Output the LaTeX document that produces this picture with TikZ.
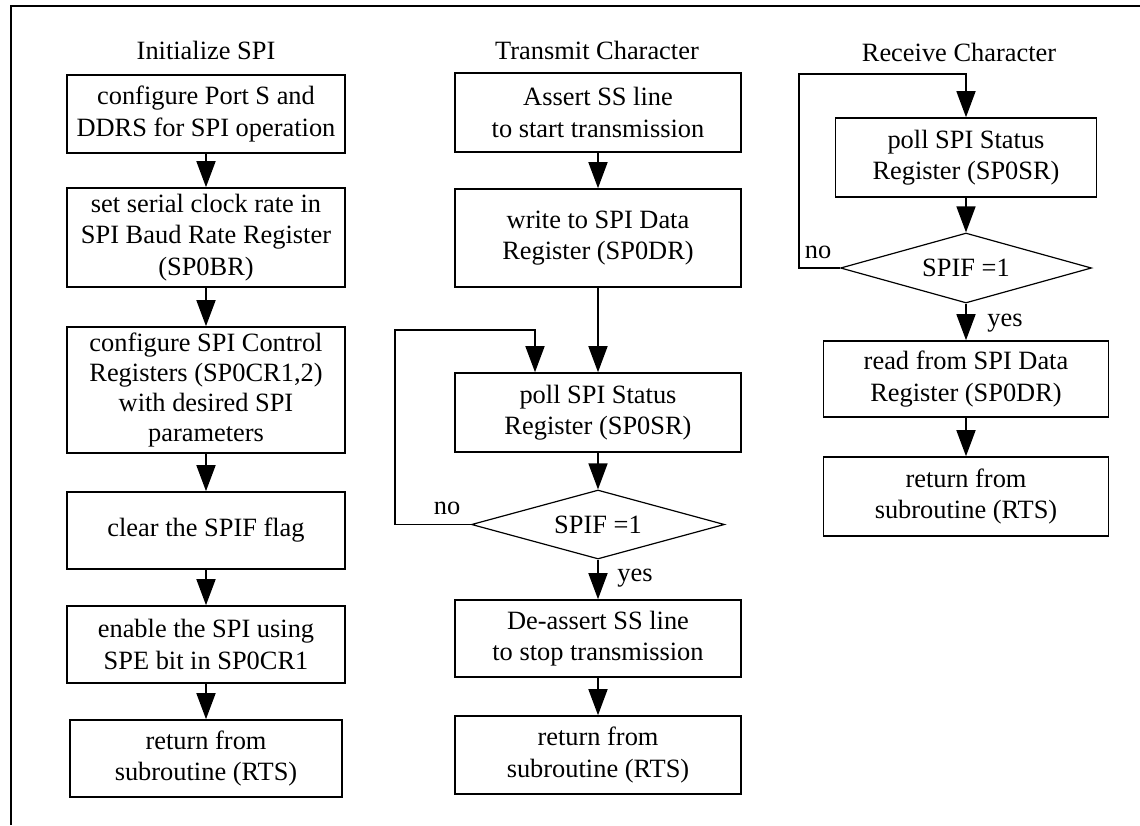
\documentclass[tikz,border=0pt]{standalone}
\usepackage{fontspec}
\setmainfont{Liberation Serif}
\usepackage{tikz}
\usetikzlibrary{positioning, arrows.meta, shapes.geometric}

\tikzset{
    txt/.style={font=\fontsize{13.2}{15.8}\selectfont, align=center, inner sep=0pt},
    stepbox/.style={txt, draw, line width=0.8pt, minimum width=143pt},
    test/.style={txt, draw, diamond, line width=0.6pt, aspect=3.6},
    arr/.style={line width=0.8pt, -{Triangle[length=13pt, width=9.5pt]}}
}

\begin{document}
\begin{tikzpicture}[x=0.5pt, y=-0.5pt]
    \useasboundingbox (0,0) rectangle (1140,825);
    \draw[line width=1pt] (11,825) -- (11,6) -- (1140,6);

    \node[txt] (t1) at (206,50) {Initialize SPI};
    \node[stepbox, minimum width=139pt, minimum height=39pt] (a1) at (206,114)
        {configure Port S and\\DDRS for SPI operation};
    \node[stepbox, minimum width=139pt, minimum height=49.5pt] (a2) at (206,237.5)
        {set serial clock rate in\\SPI Baud Rate Register\\(SP0BR)};
    \node[stepbox, minimum width=139pt, minimum height=63pt,
          font=\fontsize{13.2}{15}\selectfont] (a3) at (206,390)
        {configure SPI Control\\Registers (SP0CR1,2)\\with desired SPI\\parameters};
    \node[stepbox, minimum width=139pt, minimum height=38.5pt] (a4) at (206,530.5)
        {clear the SPIF flag};
    \node[stepbox, minimum width=139pt, minimum height=38.5pt] (a5) at (206,644.5)
        {enable the SPI using\\SPE bit in SP0CR1};
    \node[stepbox, minimum width=136pt, minimum height=38.5pt] (a6) at (206,758.5)
        {return from\\subroutine (RTS)};

    \node[txt] (t2) at (597,50) {Transmit Character};
    \node[stepbox, minimum height=39.5pt] (b1) at (598,112.5)
        {Assert SS line\\to start transmission};
    \node[stepbox, minimum height=49pt] (b2) at (598,238)
        {write to SPI Data\\Register (SP0DR)};
    \node[stepbox, minimum height=39.5pt] (b3) at (598,412.5)
        {poll SPI Status\\Register (SP0SR)};
    \node[test, minimum width=126.5pt, minimum height=34.5pt] (d1) at (598,524.5) {SPIF =1};
    \node[stepbox, minimum height=38.5pt] (b4) at (598,638.5)
        {De-assert SS line\\to stop transmission};
    \node[stepbox, minimum height=39pt] (b5) at (598,755)
        {return from\\subroutine (RTS)};

    \node[txt] (t3) at (959,52) {Receive Character};
    \node[stepbox, minimum width=130.5pt, minimum height=39.5pt] (c1) at (966,157.5)
        {poll SPI Status\\Register (SP0SR)};
    \node[test, minimum width=125.5pt, minimum height=35pt] (d2) at (966,268) {SPIF =1};
    \node[stepbox, minimum width=142.5pt, minimum height=38pt] (c2) at (966,379)
        {read from SPI Data\\Register (SP0DR)};
    \node[stepbox, minimum width=142.5pt, minimum height=39.5pt] (c3) at (966,496.5)
        {return from\\subroutine (RTS)};

    \node[txt] (no1) at (447,508) {no};
    \node[txt] (yes1) at (635,578) {yes};
    \node[txt] (no2) at (818,252) {no};
    \node[txt] (yes2) at (1005,323) {yes};

    \coordinate (loop1) at (395,330);
    \coordinate (loop2) at (799,74);

    \draw[arr] (a1) -- (a2);
    \draw[arr] (a2) -- (a3);
    \draw[arr] (a3) -- (a4);
    \draw[arr] (a4) -- (a5);
    \draw[arr] (a5) -- (a6);

    \draw[arr] (b1) -- (b2);
    \draw[arr] (b2) -- (b3);
    \draw[arr] (b3) -- (d1);
    \draw[arr] (d1) -- (b4);
    \draw[arr] (b4) -- (b5);
    \draw[arr] (d1.west) -| (loop1) -| ([xshift=-31.5pt]b3.north);

    \draw[arr] (c1) -- (d2);
    \draw[arr] (d2) -- (c2);
    \draw[arr] (c2) -- (c3);
    \draw[arr] (d2.west) -| (loop2) -| (c1.north);
\end{tikzpicture}
\end{document}
